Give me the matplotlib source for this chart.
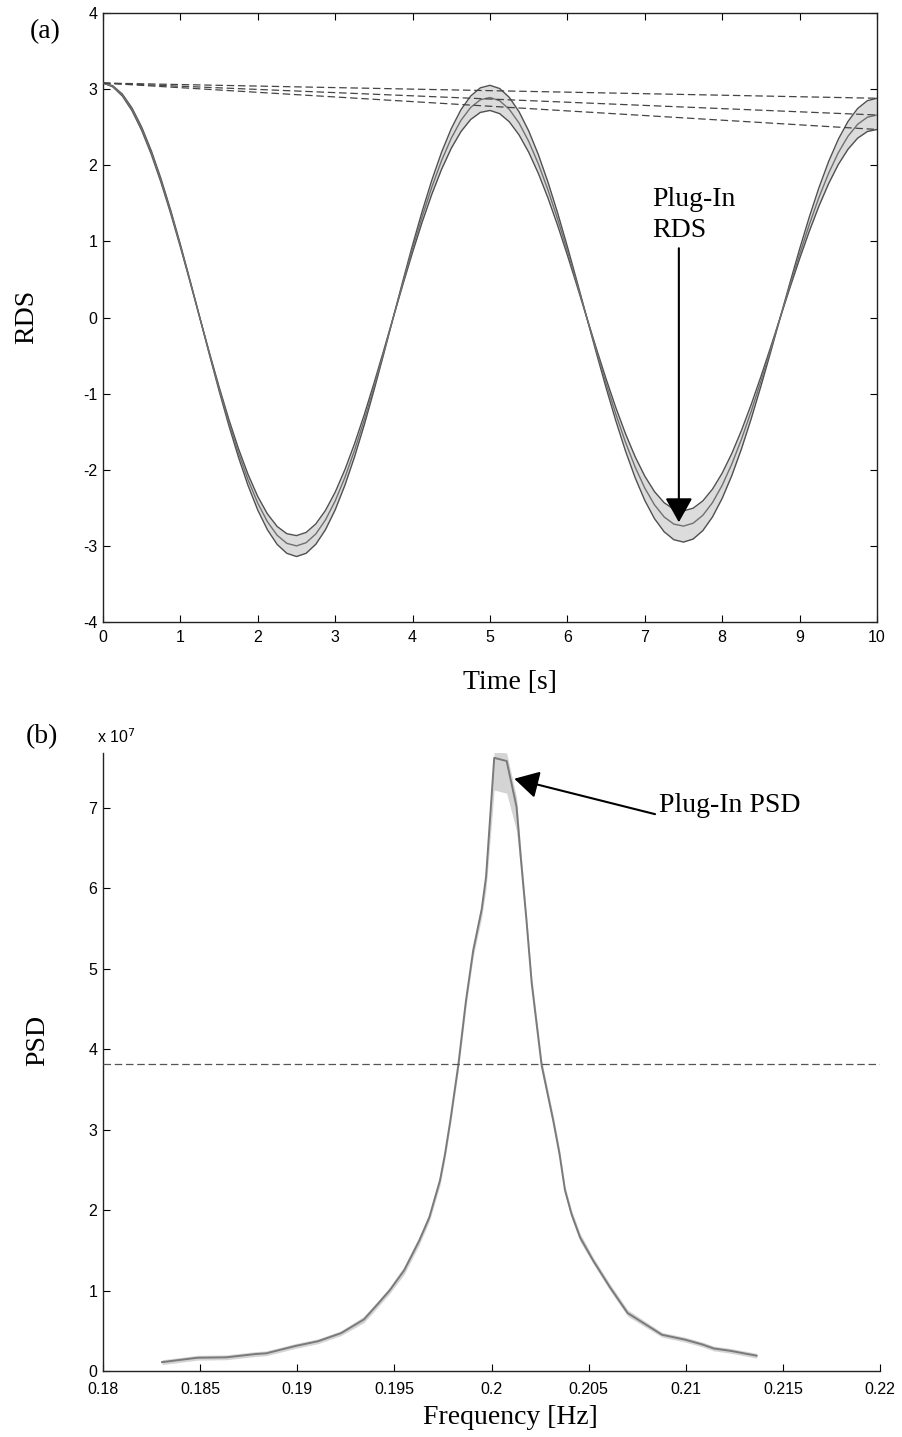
import numpy as np
import matplotlib
matplotlib.use("Agg")
import matplotlib.pyplot as plt
from matplotlib.ticker import FixedLocator, FixedFormatter

# ---------------- data: panel (a) RDS (read at 0.125 s steps) ----------------
time_s = [0.000, 0.125, 0.250, 0.375, 0.500, 0.625, 0.750, 0.875, 1.000, 1.125,
          1.250, 1.375, 1.500, 1.625, 1.750, 1.875, 2.000, 2.125, 2.250, 2.375,
          2.500, 2.625, 2.750, 2.875, 3.000, 3.125, 3.250, 3.375, 3.500, 3.625,
          3.750, 3.875, 4.000, 4.125, 4.250, 4.375, 4.500, 4.625, 4.750, 4.875,
          5.000, 5.125, 5.250, 5.375, 5.500, 5.625, 5.750, 5.875, 6.000, 6.125,
          6.250, 6.375, 6.500, 6.625, 6.750, 6.875, 7.000, 7.125, 7.250, 7.375,
          7.500, 7.625, 7.750, 7.875, 8.000, 8.125, 8.250, 8.375, 8.500, 8.625,
          8.750, 8.875, 9.000, 9.125, 9.250, 9.375, 9.500, 9.625, 9.750, 9.875, 10.000]
rds_center = [3.080, 3.038, 2.922, 2.734, 2.479, 2.164, 1.796, 1.386, 0.942, 0.476,
              0.000, -0.475, -0.937, -1.375, -1.778, -2.135, -2.440, -2.684, -2.861, -2.967,
              -3.000, -2.958, -2.843, -2.658, -2.409, -2.102, -1.744, -1.345, -0.913, -0.462,
              0.000, 0.460, 0.907, 1.330, 1.718, 2.063, 2.356, 2.590, 2.759, 2.860,
              2.890, 2.847, 2.734, 2.555, 2.314, 2.017, 1.672, 1.288, 0.874, 0.442,
              0.000, -0.439, -0.865, -1.268, -1.637, -1.964, -2.241, -2.461, -2.620, -2.714,
              -2.740, -2.702, -2.598, -2.431, -2.204, -1.923, -1.596, -1.231, -0.837, -0.423,
              0.000, 0.422, 0.832, 1.220, 1.578, 1.895, 2.165, 2.381, 2.538, 2.631, 2.660]
rds_outer = [3.080, 3.045, 2.935, 2.752, 2.501, 2.188, 1.821, 1.408, 0.959, 0.486,
             0.000, -0.487, -0.963, -1.416, -1.835, -2.210, -2.531, -2.790, -2.981, -3.098,
             -3.140, -3.097, -2.978, -2.786, -2.526, -2.204, -1.830, -1.411, -0.959, -0.485,
             0.000, 0.483, 0.954, 1.399, 1.809, 2.173, 2.482, 2.730, 2.909, 3.017,
             3.050, 3.008, 2.891, 2.704, 2.451, 2.139, 1.775, 1.369, 0.930, 0.470,
             0.000, -0.469, -0.924, -1.355, -1.752, -2.104, -2.403, -2.642, -2.815, -2.919,
             -2.950, -2.910, -2.799, -2.619, -2.375, -2.074, -1.722, -1.328, -0.903, -0.457,
             0.000, 0.455, 0.899, 1.319, 1.705, 2.049, 2.341, 2.575, 2.746, 2.848, 2.880]
rds_inner = [3.080, 3.031, 2.909, 2.716, 2.457, 2.140, 1.772, 1.364, 0.925, 0.467,
             0.000, -0.463, -0.912, -1.335, -1.722, -2.064, -2.353, -2.581, -2.745, -2.840,
             -2.865, -2.823, -2.711, -2.533, -2.294, -2.000, -1.658, -1.278, -0.867, -0.438,
             0.000, 0.436, 0.858, 1.258, 1.624, 1.949, 2.224, 2.443, 2.601, 2.694,
             2.720, 2.678, 2.570, 2.399, 2.171, 1.892, 1.567, 1.206, 0.818, 0.413,
             0.000, -0.410, -0.807, -1.182, -1.525, -1.828, -2.084, -2.287, -2.433, -2.518,
             -2.540, -2.505, -2.409, -2.254, -2.044, -1.784, -1.481, -1.142, -0.776, -0.392,
             0.000, 0.391, 0.772, 1.132, 1.464, 1.759, 2.010, 2.210, 2.356, 2.443, 2.470]
envelope_t = [0.0, 10.0]
envelope_start = 3.08
envelope_end = [2.88, 2.66, 2.47]

rds_xticks = [0, 1, 2, 3, 4, 5, 6, 7, 8, 9, 10]
rds_yticks = [-4, -3, -2, -1, 0, 1, 2, 3, 4]
rds_yticklabels = ["-4", "-3", "-2", "-1", "0", "1", "2", "3", "4"]

# ---------------- data: panel (b) PSD (units of 1e7) ----------------
freq_hz = [0.18304, 0.18487, 0.18635, 0.18782, 0.18841, 0.18989, 0.19107, 0.19225,
           0.19343, 0.19410, 0.19475, 0.19550, 0.19628, 0.19680, 0.19735,
           0.19761, 0.19788, 0.19829, 0.19869, 0.19906, 0.19949, 0.19972, 0.20014,
           0.20078, 0.20129, 0.20150, 0.20180, 0.20207, 0.20258, 0.20318,
           0.20350, 0.20378, 0.20412, 0.20456, 0.20524, 0.20610, 0.20701, 0.20878,
           0.20996, 0.21085, 0.21144, 0.21232, 0.21365]
psd_e7 = [0.11, 0.165, 0.17, 0.21, 0.22, 0.31, 0.37, 0.47,
          0.64, 0.82, 1.00, 1.25, 1.62, 1.91, 2.37,
          2.70, 3.11, 3.80, 4.61, 5.23, 5.73, 6.14, 7.62,
          7.58, 7.01, 6.40, 5.60, 4.82, 3.80, 3.11,
          2.70, 2.25, 1.95, 1.66, 1.37, 1.04, 0.72, 0.45,
          0.39, 0.33, 0.28, 0.25, 0.19]
psd_band_up = [0.03, 0.03, 0.03, 0.03, 0.03, 0.03, 0.03, 0.03,
               0.04, 0.04, 0.04, 0.05, 0.05, 0.05, 0.06,
               0.06, 0.06, 0.07, 0.08, 0.08, 0.08, 0.10, 0.08,
               0.10, 0.12, 0.10, 0.08, 0.08, 0.07, 0.06,
               0.06, 0.05, 0.05, 0.05, 0.04, 0.04, 0.04, 0.03,
               0.03, 0.03, 0.03, 0.03, 0.03]
psd_band_down = [0.03, 0.03, 0.03, 0.03, 0.03, 0.03, 0.03, 0.03,
                 0.04, 0.04, 0.04, 0.05, 0.05, 0.05, 0.06,
                 0.06, 0.06, 0.07, 0.08, 0.08, 0.10, 0.15, 0.40,
                 0.40, 0.30, 0.15, 0.10, 0.08, 0.07, 0.06,
                 0.06, 0.05, 0.05, 0.05, 0.04, 0.04, 0.04, 0.03,
                 0.03, 0.03, 0.03, 0.03, 0.03]
half_power_e7 = 3.82
psd_xticks = [0.18, 0.185, 0.19, 0.195, 0.2, 0.205, 0.21, 0.215, 0.22]
psd_xticklabels = ["0.18", "0.185", "0.19", "0.195", "0.2", "0.205", "0.21", "0.215", "0.22"]
psd_yticks = [0, 1, 2, 3, 4, 5, 6, 7]
psd_yticklabels = ["0", "1", "2", "3", "4", "5", "6", "7"]

# ---------------- figure ----------------
W, H = 902, 1437
fig = plt.figure(figsize=(W / 100, H / 100), dpi=100)
serif = ["Liberation Serif", "DejaVu Serif"]
sans = ["Liberation Sans", "DejaVu Sans"]
tick_fs = 11.5
lab_fs = 20

def frac(x0, y0, x1, y1):
    return [x0 / W, 1 - y1 / H, (x1 - x0) / W, (y1 - y0) / H]

# ---------- panel (a) ----------
ax1 = fig.add_axes(frac(103, 13, 877, 622))
t = np.array(time_s)
ax1.fill_between(t, rds_outer, rds_inner, color="#dcdcdc", lw=0, zorder=1)
ax1.plot(t, rds_outer, color="#505050", lw=1.0, zorder=2)
ax1.plot(t, rds_inner, color="#505050", lw=1.0, zorder=2)
ax1.plot(t, rds_center, color="#707070", lw=1.0, zorder=3)
for e in envelope_end:
    ax1.plot(envelope_t, [envelope_start, e], color="#444444", lw=0.9,
             dashes=(6, 3), zorder=4)
ax1.set_xlim(0, 10)
ax1.set_ylim(-4, 4)
ax1.xaxis.set_major_locator(FixedLocator(rds_xticks))
ax1.yaxis.set_major_locator(FixedLocator(rds_yticks))
ax1.yaxis.set_major_formatter(FixedFormatter(rds_yticklabels))
ax1.tick_params(direction="in", length=5, width=0.8, top=True, right=True,
                labelsize=tick_fs)
ax1.tick_params(axis="x", pad=6)
ax1.tick_params(axis="y", pad=4)
for lab in ax1.get_xticklabels() + ax1.get_yticklabels():
    lab.set_family(sans)
for s in ax1.spines.values():
    s.set_linewidth(1.0)
    s.set_color("#222222")

ax1.annotate("", xy=(7.44, -2.69), xytext=(7.44, 0.91),
             arrowprops=dict(arrowstyle="-|>,head_length=0.75,head_width=0.42",
                             mutation_scale=20, color="black", lw=1.5,
                             shrinkA=0, shrinkB=0), zorder=6)
ax1.text(7.09, 1.46, "Plug-In", family=serif, fontsize=lab_fs, ha="left", va="baseline")
ax1.text(7.09, 1.055, "RDS", family=serif, fontsize=lab_fs, ha="left", va="baseline")

# ---------- panel (b) ----------
ax2 = fig.add_axes(frac(103, 753, 880, 1371))
f = np.array(freq_hz)
p = np.array(psd_e7)
ax2.fill_between(f, p + np.array(psd_band_up), p - np.array(psd_band_down),
                 color="#d4d4d4", lw=0, zorder=1)
ax2.plot(f, p, color="#7a7a7a", lw=1.4, zorder=2)
ax2.axhline(half_power_e7, color="#555555", lw=0.9, dashes=(6, 3), zorder=3)
ax2.set_xlim(0.18, 0.22)
ax2.set_ylim(0, 7.68)
ax2.xaxis.set_major_locator(FixedLocator(psd_xticks))
ax2.xaxis.set_major_formatter(FixedFormatter(psd_xticklabels))
ax2.yaxis.set_major_locator(FixedLocator(psd_yticks))
ax2.yaxis.set_major_formatter(FixedFormatter(psd_yticklabels))
ax2.tick_params(direction="in", length=5, width=0.8, labelsize=tick_fs)
ax2.tick_params(axis="x", pad=8)
ax2.tick_params(axis="y", pad=4)
for lab in ax2.get_xticklabels() + ax2.get_yticklabels():
    lab.set_family(sans)
ax2.spines["top"].set_visible(False)
ax2.spines["right"].set_visible(False)
for s in ("left", "bottom"):
    ax2.spines[s].set_linewidth(1.0)
    ax2.spines[s].set_color("#222222")
ax2.text(-0.008, 1.012, r"x 10$^{7}$", transform=ax2.transAxes, family=sans,
         fontsize=tick_fs, ha="left", va="bottom")

ax2.annotate("", xy=(0.20117, 7.36), xytext=(0.20842, 6.92),
             arrowprops=dict(arrowstyle="-|>,head_length=0.75,head_width=0.42",
                             mutation_scale=20, color="black", lw=1.5,
                             shrinkA=0, shrinkB=0), zorder=6)
ax2.text(0.20862, 6.95, "Plug-In PSD", family=serif, fontsize=lab_fs,
         ha="left", va="baseline")

# ---------- figure labels ----------
fig.text(45 / W, 1 - 32 / H, "(a)", family=serif, fontsize=lab_fs, ha="center", va="center")
fig.text(27 / W, 1 - 317 / H, "RDS", family=serif, fontsize=lab_fs, ha="center",
         va="center", rotation=90)
fig.text(510 / W, 1 - 682 / H, "Time [s]", family=serif, fontsize=lab_fs, ha="center", va="center")
fig.text(42 / W, 1 - 737 / H, "(b)", family=serif, fontsize=lab_fs, ha="center", va="center")
fig.text(38 / W, 1 - 1040 / H, "PSD", family=serif, fontsize=lab_fs, ha="center",
         va="center", rotation=90)
fig.text(510 / W, 1 - 1418 / H, "Frequency [Hz]", family=serif, fontsize=lab_fs,
         ha="center", va="center")

fig.savefig("out.png", dpi=100)
